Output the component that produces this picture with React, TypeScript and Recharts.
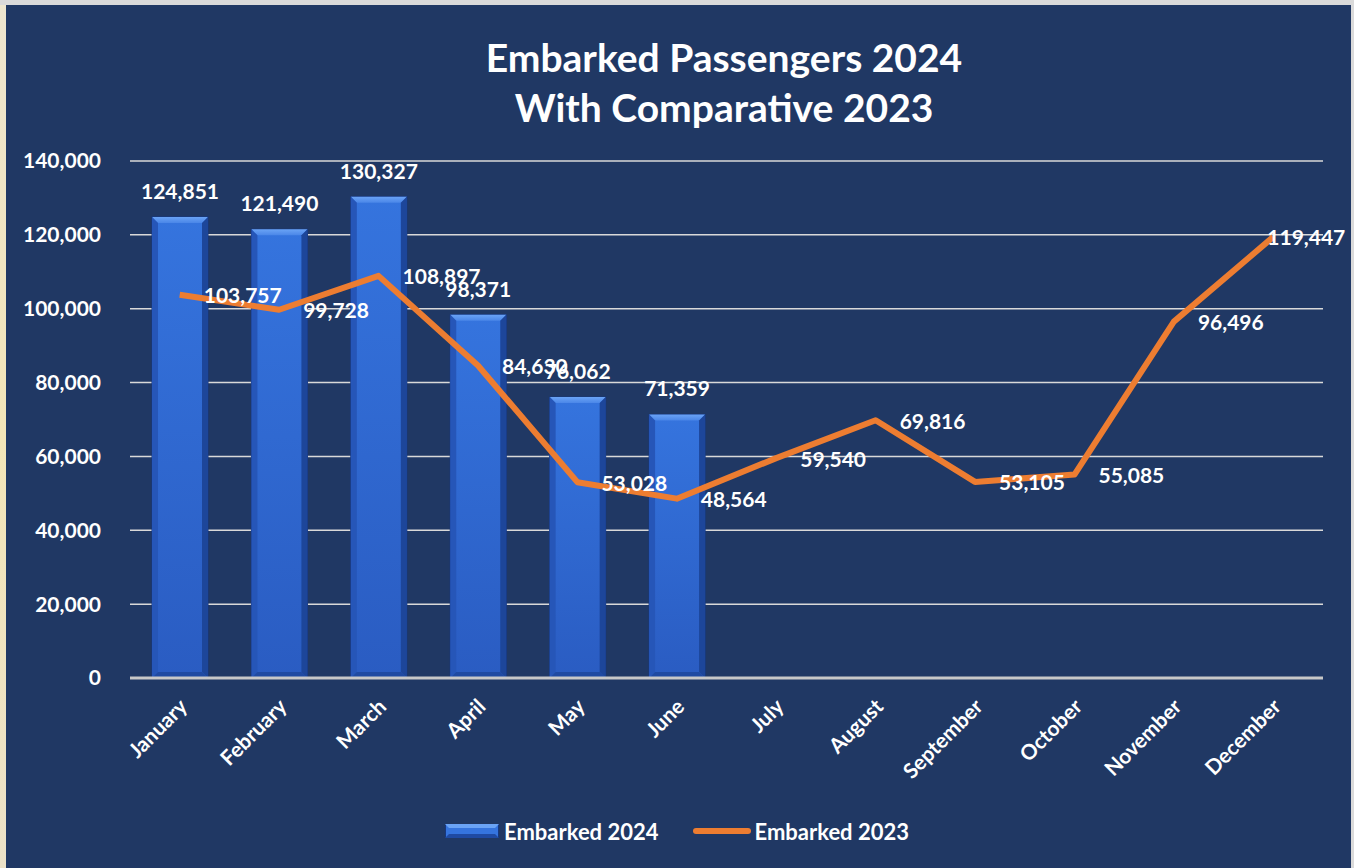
import React from "react";
import { ComposedChart, Bar, Line, XAxis, YAxis, CartesianGrid, LabelList } from "recharts";

const months = ["January", "February", "March", "April", "May", "June", "July", "August", "September", "October", "November", "December"];
const embarked2024 = [124851, 121490, 130327, 98371, 76062, 71359];
const embarked2023 = [103757, 99728, 108897, 84630, 53028, 48564, 59540, 69816, 53105, 55085, 96496, 119447];
const yTicks = [0, 20000, 40000, 60000, 80000, 100000, 120000, 140000];

const chartData = months.map((m, i) => ({
  month: m,
  e2024: i < embarked2024.length ? embarked2024[i] : null,
  e2023: embarked2023[i],
}));

const FONT = 'Lato, "Open Sans", sans-serif';
const fmt = (v: any) => (v == null ? "" : Number(v).toLocaleString("en-US"));

const BevelBar = (props: any) => {
  const { x, y, width, height } = props;
  if (height == null || height <= 0) return null;
  const b = Math.min(6, height / 2);
  return (
    <g>
      <rect x={x} y={y} width={width} height={height} fill="url(#barFace)" stroke="#17377e" strokeWidth={1} />
      <polygon points={`${x},${y} ${x + width},${y} ${x + width - b},${y + b} ${x + b},${y + b}`} fill="url(#barTop)" />
      <polygon points={`${x},${y} ${x + b},${y + b} ${x + b},${y + height - b} ${x},${y + height}`} fill="#2656b8" />
      <polygon points={`${x + width},${y} ${x + width - b},${y + b} ${x + width - b},${y + height - b} ${x + width},${y + height}`} fill="#1d469a" />
      <polygon points={`${x},${y + height} ${x + b},${y + height - b} ${x + width - b},${y + height - b} ${x + width},${y + height}`} fill="#1f4aa2" />
    </g>
  );
};

const XTick = (props: any) => {
  const { x, y, payload } = props;
  return (
    <g transform={`translate(${x + 9},${y + 30})`}>
      <text x={0} y={0} textAnchor="end" transform="rotate(-45)" fill="#fff" fontFamily={FONT} fontWeight={700} fontSize={21}>
        {payload.value}
      </text>
    </g>
  );
};

const LineLabel = (props: any) => {
  const { x, y, value, index } = props;
  const last = index === embarked2023.length - 1;
  return (
    <text
      x={last ? x - 6 : x + 24}
      y={y}
      dominantBaseline="central"
      textAnchor="start"
      fill="#fff"
      fontFamily={FONT}
      fontWeight={700}
      fontSize={21}
    >
      {fmt(value)}
    </text>
  );
};

const BarLabel = (props: any) => {
  const { x, y, width, value } = props;
  if (value == null) return null;
  return (
    <text x={x + width / 2} y={y - 18} textAnchor="middle" fill="#fff" fontFamily={FONT} fontWeight={700} fontSize={21}>
      {fmt(value)}
    </text>
  );
};

export default function App() {
  return (
    <div style={{ position: "absolute", left: 0, top: 0, width: 1354, height: 868, background: "#dadada", overflow: "hidden" }}>
      <div style={{ position: "absolute", left: 0, top: 5, width: 6, height: 863, background: "linear-gradient(180deg,#eee6cf,#f3e6b8 50%,#ece2c8)" }} />
      <div style={{ position: "absolute", left: 6, top: 5, width: 1345, height: 863, background: "#203864" }} />
      <div
        style={{
          position: "absolute",
          left: 324,
          width: 800,
          top: 32,
          textAlign: "center",
          color: "#fff",
          fontFamily: FONT,
          fontWeight: 700,
          fontSize: 39,
          lineHeight: "50px",
        }}
      >
        <div>Embarked Passengers 2024</div>
        <div>With Comparative 2023</div>
      </div>
      <div style={{ position: "absolute", left: 0, top: 0 }}>
        <ComposedChart width={1354} height={868} data={chartData} margin={{ top: 161, right: 31, left: 30, bottom: 70 }}>
          <defs>
            <linearGradient id="barFace" x1="0" y1="0" x2="0" y2="1">
              <stop offset="0%" stopColor="#3574de" />
              <stop offset="100%" stopColor="#2a5cc2" />
            </linearGradient>
            <linearGradient id="barTop" x1="0" y1="0" x2="0" y2="1">
              <stop offset="0%" stopColor="#6aa3f5" />
              <stop offset="100%" stopColor="#4a86e8" />
            </linearGradient>
          </defs>
          <CartesianGrid vertical={false} stroke="#d9d9d9" strokeWidth={1.5} />
          <XAxis
            dataKey="month"
            interval={0}
            tickSize={0}
            tickMargin={0}
            tickLine={false}
            axisLine={{ stroke: "#c8c8c8", strokeWidth: 3 }}
            tick={<XTick />}
            height={120}
          />
          <YAxis
            domain={[0, 140000]}
            ticks={yTicks}
            width={100}
            tickSize={0}
            tickMargin={29}
            axisLine={false}
            tickLine={false}
            tickFormatter={fmt}
            tick={{ fill: "#fff", fontFamily: FONT, fontWeight: 700, fontSize: 21 }}
          />
          <Bar dataKey="e2024" barSize={56} shape={<BevelBar />} isAnimationActive={false}>
            <LabelList dataKey="e2024" content={<BarLabel />} />
          </Bar>
          <Line
            dataKey="e2023"
            type="linear"
            stroke="#ed7d31"
            strokeWidth={6}
            strokeLinejoin="round"
            dot={false}
            activeDot={false}
            isAnimationActive={false}
          >
            <LabelList dataKey="e2023" content={<LineLabel />} />
          </Line>
        </ComposedChart>
      </div>
      <div
        style={{
          position: "absolute",
          top: 816,
          left: 0,
          width: 1354,
          display: "flex",
          justifyContent: "center",
          alignItems: "center",
          color: "#fff",
          fontFamily: FONT,
          fontWeight: 700,
          fontSize: 22,
          height: 30,
        }}
      >
        <div style={{ display: "flex", alignItems: "center" }}>
          <svg width={54} height={14} style={{ marginRight: 5 }}>
            <rect x={0.5} y={0.5} width={53} height={13} fill="#3574de" stroke="#17377e" />
            <polygon points="0,0 54,0 50,4 4,4" fill="#6aa3f5" />
            <polygon points="0,14 54,14 50,10 4,10" fill="#1f4aa2" />
          </svg>
          <span>Embarked 2024</span>
        </div>
        <div style={{ marginLeft: 34, display: "flex", alignItems: "center" }}>
          <svg width={58} height={10} style={{ marginRight: 4 }}>
            <line x1={3} y1={5} x2={55} y2={5} stroke="#ed7d31" strokeWidth={6} strokeLinecap="round" />
          </svg>
          <span>Embarked 2023</span>
        </div>
      </div>
    </div>
  );
}
